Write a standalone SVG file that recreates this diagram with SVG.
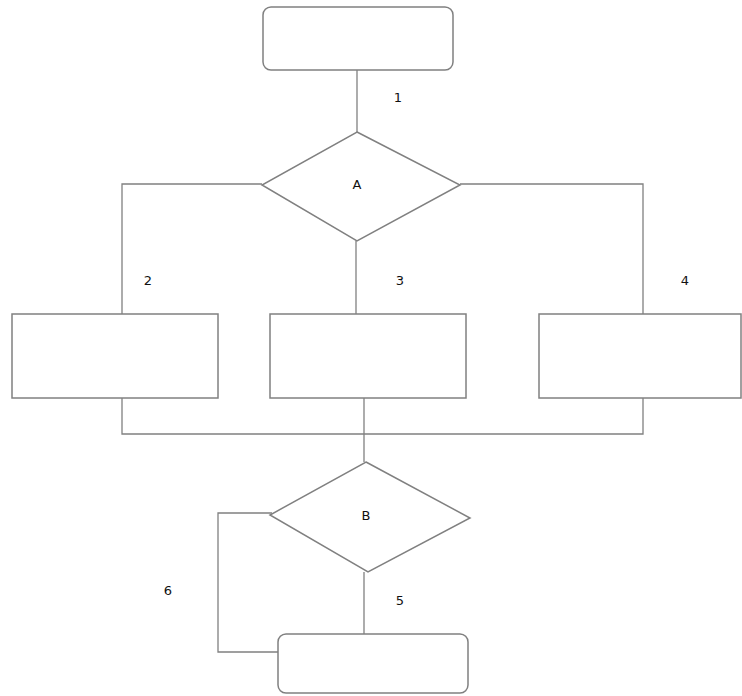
<svg xmlns="http://www.w3.org/2000/svg" width="742" height="696" viewBox="0 0 742 696">
<style>
.s{fill:#fff;stroke:#808080;stroke-width:1.5}
.c{fill:none;stroke:#808080;stroke-width:1.3}
.t{font-family:"DejaVu Sans",Verdana,sans-serif;font-size:13px;fill:#111;text-anchor:middle;dominant-baseline:central}
</style>
<rect width="742" height="696" fill="#fff"/>
<g id="connectors">
<path class="c" d="M357,70 V132"/>
<path class="c" d="M262,184 H122 V314"/>
<path class="c" d="M460,184 H643 V314"/>
<path class="c" d="M356,241 V314"/>
<path class="c" d="M122,398 V434 H643 V398"/>
<path class="c" d="M364,398 V462"/>
<path class="c" d="M364,572 V634"/>
<path class="c" d="M272,513 H218 V652 H278"/>
</g>
<g id="start"><rect class="s" x="263" y="7" width="190" height="63" rx="8"/></g>
<g id="A"><polygon class="s" points="357,132 460,185 357,241 262,185"/><text class="t" x="357" y="184">A</text></g>
<g id="box2"><rect class="s" x="12" y="314" width="206" height="84"/></g>
<g id="box3"><rect class="s" x="270" y="314" width="196" height="84"/></g>
<g id="box4"><rect class="s" x="539" y="314" width="202" height="84"/></g>
<g id="B"><polygon class="s" points="366,462 470,518 368,572 270,515"/><text class="t" x="366" y="515">B</text></g>
<g id="end"><rect class="s" x="278" y="634" width="190" height="59" rx="8"/></g>
<g id="labels">
<text class="t" x="398" y="97">1</text>
<text class="t" x="148" y="280">2</text>
<text class="t" x="400" y="280">3</text>
<text class="t" x="685" y="280">4</text>
<text class="t" x="400" y="600">5</text>
<text class="t" x="168" y="590">6</text>
</g>
</svg>
